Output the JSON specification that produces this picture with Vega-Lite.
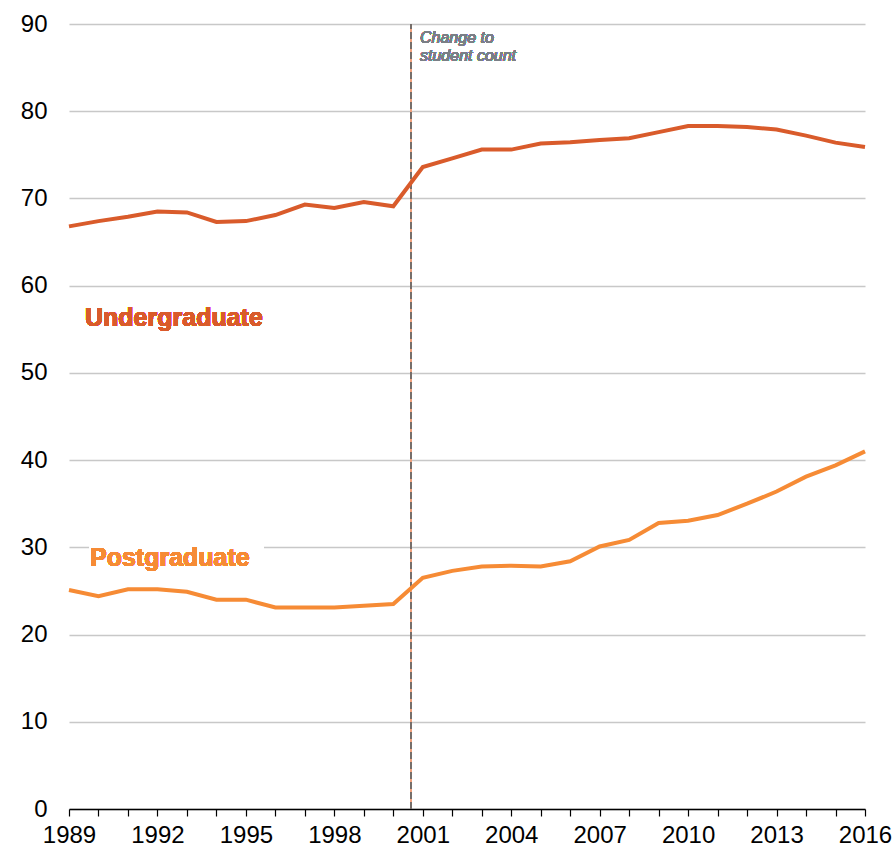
{
  "$schema": "https://vega.github.io/schema/vega-lite/v6.json",
  "autosize": {"type": "none"},
  "padding": {"left": 69, "top": 24, "right": 31, "bottom": 39},
  "width": 796,
  "height": 785,
  "background": "white",
  "config": {"view": {"stroke": null}, "font": "Liberation Sans"},
  "data": {"values": [
    {"year": 1989, "series": "Undergraduate", "value": 66.8},
    {"year": 1990, "series": "Undergraduate", "value": 67.4},
    {"year": 1991, "series": "Undergraduate", "value": 67.9},
    {"year": 1992, "series": "Undergraduate", "value": 68.5},
    {"year": 1993, "series": "Undergraduate", "value": 68.4},
    {"year": 1994, "series": "Undergraduate", "value": 67.3},
    {"year": 1995, "series": "Undergraduate", "value": 67.4},
    {"year": 1996, "series": "Undergraduate", "value": 68.1},
    {"year": 1997, "series": "Undergraduate", "value": 69.3},
    {"year": 1998, "series": "Undergraduate", "value": 68.9},
    {"year": 1999, "series": "Undergraduate", "value": 69.6},
    {"year": 2000, "series": "Undergraduate", "value": 69.1},
    {"year": 2001, "series": "Undergraduate", "value": 73.6},
    {"year": 2002, "series": "Undergraduate", "value": 74.6},
    {"year": 2003, "series": "Undergraduate", "value": 75.6},
    {"year": 2004, "series": "Undergraduate", "value": 75.6},
    {"year": 2005, "series": "Undergraduate", "value": 76.3},
    {"year": 2006, "series": "Undergraduate", "value": 76.45},
    {"year": 2007, "series": "Undergraduate", "value": 76.7},
    {"year": 2008, "series": "Undergraduate", "value": 76.9},
    {"year": 2009, "series": "Undergraduate", "value": 77.6},
    {"year": 2010, "series": "Undergraduate", "value": 78.3},
    {"year": 2011, "series": "Undergraduate", "value": 78.3},
    {"year": 2012, "series": "Undergraduate", "value": 78.2},
    {"year": 2013, "series": "Undergraduate", "value": 77.9},
    {"year": 2014, "series": "Undergraduate", "value": 77.2},
    {"year": 2015, "series": "Undergraduate", "value": 76.4},
    {"year": 2016, "series": "Undergraduate", "value": 75.9},
    {"year": 1989, "series": "Postgraduate", "value": 25.1},
    {"year": 1990, "series": "Postgraduate", "value": 24.4},
    {"year": 1991, "series": "Postgraduate", "value": 25.2},
    {"year": 1992, "series": "Postgraduate", "value": 25.2},
    {"year": 1993, "series": "Postgraduate", "value": 24.9},
    {"year": 1994, "series": "Postgraduate", "value": 24.0},
    {"year": 1995, "series": "Postgraduate", "value": 24.0},
    {"year": 1996, "series": "Postgraduate", "value": 23.1},
    {"year": 1997, "series": "Postgraduate", "value": 23.1},
    {"year": 1998, "series": "Postgraduate", "value": 23.1},
    {"year": 1999, "series": "Postgraduate", "value": 23.3},
    {"year": 2000, "series": "Postgraduate", "value": 23.5},
    {"year": 2001, "series": "Postgraduate", "value": 26.5},
    {"year": 2002, "series": "Postgraduate", "value": 27.3},
    {"year": 2003, "series": "Postgraduate", "value": 27.8},
    {"year": 2004, "series": "Postgraduate", "value": 27.9},
    {"year": 2005, "series": "Postgraduate", "value": 27.8},
    {"year": 2006, "series": "Postgraduate", "value": 28.4},
    {"year": 2007, "series": "Postgraduate", "value": 30.1},
    {"year": 2008, "series": "Postgraduate", "value": 30.85},
    {"year": 2009, "series": "Postgraduate", "value": 32.8},
    {"year": 2010, "series": "Postgraduate", "value": 33.05},
    {"year": 2011, "series": "Postgraduate", "value": 33.7},
    {"year": 2012, "series": "Postgraduate", "value": 35.0},
    {"year": 2013, "series": "Postgraduate", "value": 36.4},
    {"year": 2014, "series": "Postgraduate", "value": 38.1},
    {"year": 2015, "series": "Postgraduate", "value": 39.4},
    {"year": 2016, "series": "Postgraduate", "value": 41.0}
  ]},
  "encoding": {
    "x": {
      "field": "year", "type": "quantitative",
      "scale": {"domain": [1989, 2016], "nice": false, "zero": false},
      "axis": {
        "title": null,
        "values": [1989,1990,1991,1992,1993,1994,1995,1996,1997,1998,1999,2000,2001,2002,2003,2004,2005,2006,2007,2008,2009,2010,2011,2012,2013,2014,2015,2016],
        "labelExpr": "(datum.value - 1989) % 3 == 0 ? datum.value : ''",
        "format": "d",
        "grid": false,
        "domainColor": "#000000",
        "domainWidth": 1.5,
        "tickColor": "#000000",
        "tickWidth": 1.2,
        "tickSize": 7,
        "labelFontSize": 24,
        "labelColor": "#000000",
        "labelPadding": 7,
        "labelOverlap": false,
        "labelFlush": false
      }
    },
    "y": {
      "field": "value", "type": "quantitative",
      "scale": {"domain": [0, 90], "nice": false},
      "axis": {
        "title": null,
        "values": [0,10,20,30,40,50,60,70,80,90],
        "domain": false,
        "ticks": false,
        "grid": true,
        "gridColor": "#c8c8c8",
        "gridWidth": 1.5,
        "labelFontSize": 24,
        "labelColor": "#000000",
        "labelPadding": 22
      }
    }
  },
  "layer": [
    {
      "mark": {"type": "rect", "color": "white"},
      "encoding": {
        "x": {"datum": 1989.7},
        "x2": {"datum": 1995.6},
        "y": {"datum": 29.2},
        "y2": {"datum": 30.8}
      }
    },
    {
      "mark": {"type": "rule", "color": "#f2a27e", "strokeWidth": 1.5},
      "encoding": {"x": {"datum": 2000.6}, "y": {"datum": 0}, "y2": {"datum": 90}}
    },
    {
      "mark": {"type": "rule", "color": "#766e6a", "strokeWidth": 1.5, "strokeDash": [7, 3]},
      "encoding": {"x": {"datum": 2000.6}, "y": {"datum": 0}, "y2": {"datum": 90}}
    },
    {
      "mark": {"type": "line", "strokeWidth": 4, "strokeJoin": "miter"},
      "encoding": {
        "color": {
          "field": "series", "type": "nominal",
          "scale": {"domain": ["Undergraduate", "Postgraduate"], "range": ["#d95b2b", "#f68b35"]},
          "legend": null
        }
      }
    },
    {
      "mark": {"type": "text", "text": ["Change to", "student count"], "align": "left", "baseline": "top", "fontSize": 16, "fontStyle": "italic", "fill": "#7a7f86", "dx": 9, "dy": 6, "lineHeight": 18},
      "encoding": {"x": {"datum": 2000.6}, "y": {"datum": 90}}
    },
    {
      "mark": {"type": "text", "text": "Undergraduate", "align": "left", "baseline": "middle", "fontSize": 25, "fontWeight": "bold", "fill": "#d95b2b", "dx": 16},
      "encoding": {"x": {"datum": 1989}, "y": {"datum": 56.3}}
    },
    {
      "mark": {"type": "text", "text": "Postgraduate", "align": "left", "baseline": "middle", "fontSize": 25, "fontWeight": "bold", "fill": "#f68b35", "dx": 21},
      "encoding": {"x": {"datum": 1989}, "y": {"datum": 28.8}}
    }
  ]
}
